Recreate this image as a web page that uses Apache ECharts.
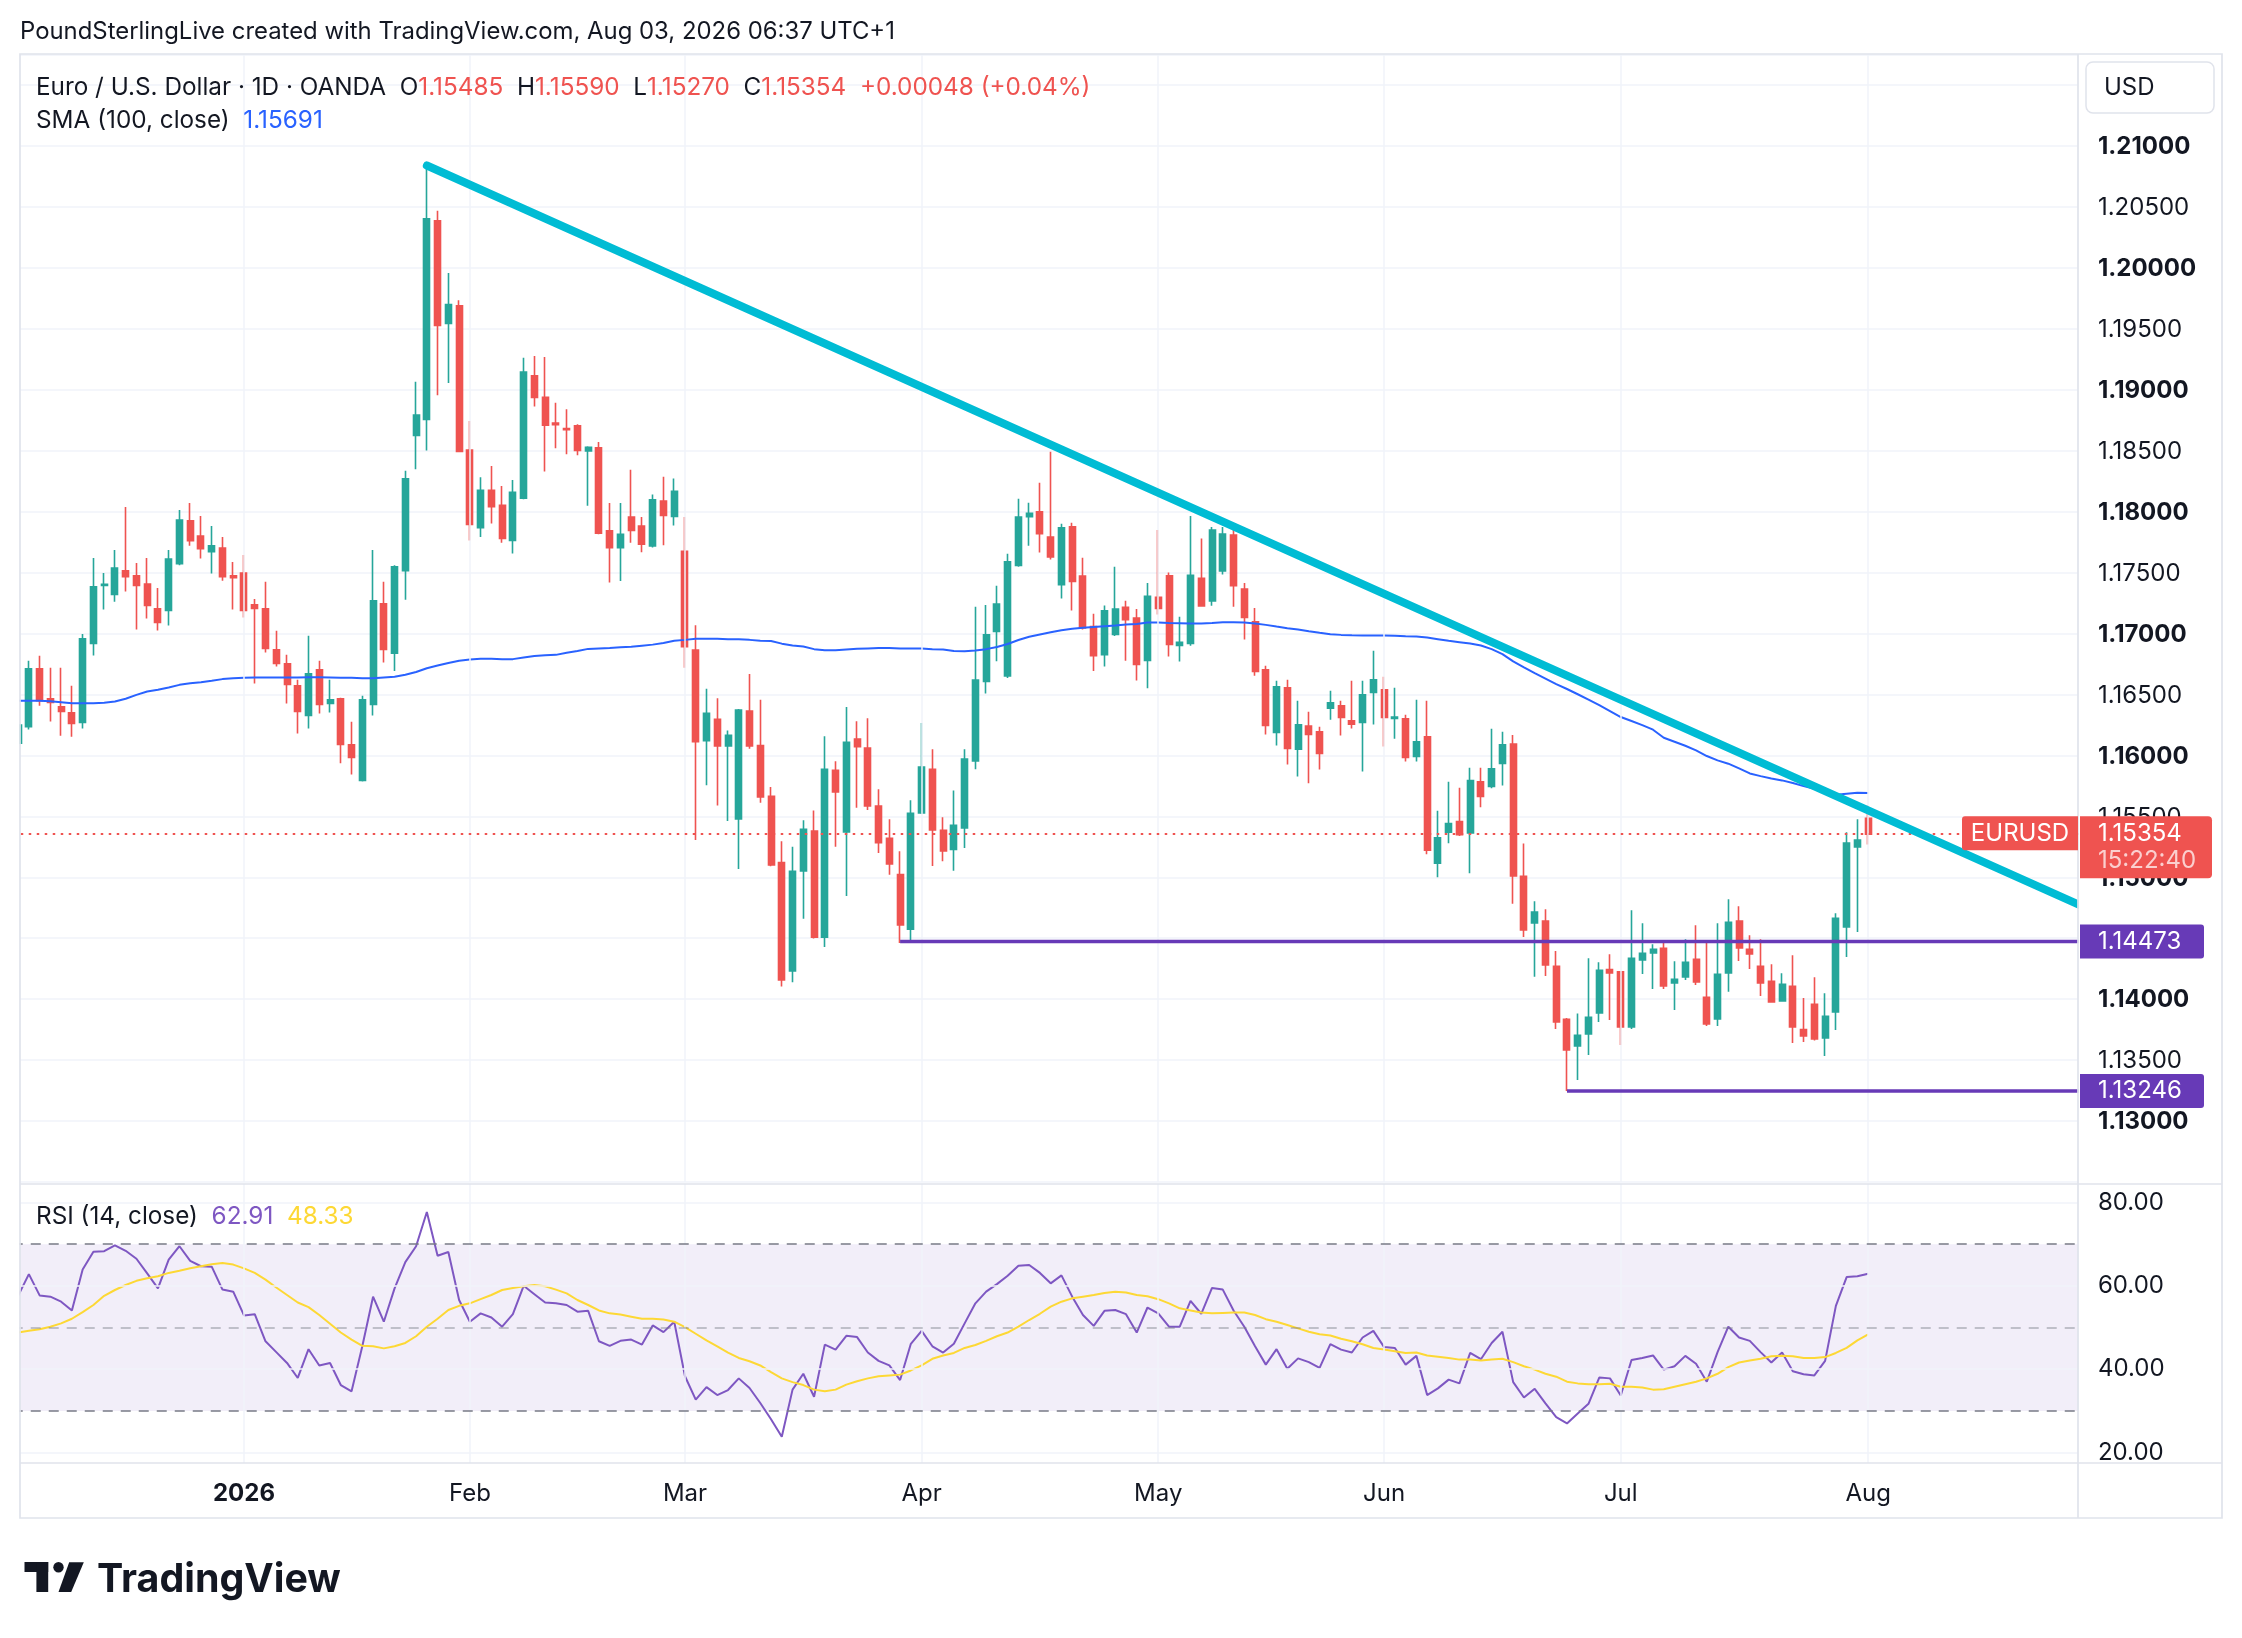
<!DOCTYPE html>
<html><head><meta charset="utf-8">
<script src="https://cdn.jsdelivr.net/npm/echarts@6/dist/echarts.min.js"></script>
<style>html,body{margin:0;padding:0;background:#fff}#c{width:2242px;height:1638px}</style>
</head><body><div id="c"></div>
<script>
// ---------------- DATA ----------------
const opens = [
1.1610,1.16235,1.16710,1.16465,1.16399,1.16350,1.16271,1.16918,1.17394,1.17320,
1.17514,1.17473,1.17407,1.17202,1.17189,1.17574,1.17924,1.17800,1.17672,1.17702,
1.17473,1.17497,1.17235,1.17202,1.16866,1.16751,1.16571,1.16328,1.16702,1.16426,
1.16465,1.16088,1.15795,1.16418,1.17243,1.16838,1.17516,1.18625,1.18757,1.20386,
1.19545,1.19690,1.18506,1.17868,1.18176,1.18053,1.17763,1.18110,1.19114,1.18938,
1.18726,1.18682,1.18704,1.18498,1.18524,1.17842,1.17705,1.17956,1.17881,1.17719,
1.18088,1.17961,1.17675,1.16865,1.16121,1.16297,1.16077,1.15478,1.16363,1.16081,
1.15665,1.15122,1.14232,1.15053,1.15379,1.14509,1.15877,1.15373,1.16134,1.16060,
1.15585,1.15319,1.15023,1.14575,1.15528,1.15886,1.15385,1.15229,1.15405,1.15955,
1.16606,1.17018,1.16651,1.17559,1.17959,1.17998,1.17792,1.17401,1.17876,1.17472,
1.17057,1.16827,1.16992,1.17216,1.17128,1.16779,1.17298,1.17473,1.16902,1.16918,
1.17454,1.17268,1.17514,1.17809,1.17366,1.17096,1.16702,1.16189,1.16555,1.16050,
1.16241,1.16194,1.16388,1.16407,1.16284,1.16271,1.16517,1.16538,1.16303,1.16301,
1.15992,1.16153,1.15115,1.15369,1.15457,1.15364,1.15784,1.15746,1.15935,1.16093,
1.15009,1.14626,1.14640,1.14270,1.13835,1.13616,1.13715,1.13887,1.14243,1.14224,
1.13772,1.14322,1.14380,1.14418,1.14133,1.14183,1.14328,1.14016,1.13838,1.14215,
1.14640,1.14410,1.14270,1.14147,1.13986,1.14106,1.13750,1.13958,1.13682,1.13895,
1.14593,1.15250,1.15485];
const highs = [
1.1632,1.16776,1.16817,1.16719,1.16719,1.16571,1.16997,1.17620,1.17497,1.17686,
1.18038,1.17579,1.17620,1.17374,1.17686,1.18014,1.18071,1.17964,1.17883,1.17792,
1.17587,1.17645,1.17284,1.17424,1.17022,1.16825,1.16620,1.16981,1.16776,1.16620,
1.16473,1.16276,1.16489,1.17686,1.17424,1.17560,1.18335,1.19065,1.20839,1.20469,
1.19959,1.19734,1.18744,1.18282,1.18374,1.18211,1.18260,1.19263,1.19277,1.19268,
1.18894,1.18841,1.18718,1.18537,1.18572,1.18071,1.18071,1.18344,1.17956,1.18141,
1.18286,1.18273,1.17956,1.17067,1.16548,1.16469,1.16205,1.16380,1.16667,1.16456,
1.15740,1.15295,1.15250,1.15468,1.15549,1.16158,1.15952,1.16397,1.16281,1.16305,
1.15722,1.15477,1.15214,1.15632,1.16266,1.16051,1.15492,1.15713,1.16051,1.17219,
1.17234,1.17392,1.17655,1.18106,1.18073,1.18237,1.18491,1.17900,1.17909,1.17622,
1.17162,1.17230,1.17547,1.17269,1.17202,1.17415,1.17850,1.17500,1.17137,1.17964,
1.17780,1.17874,1.17874,1.17874,1.17415,1.17210,1.16735,1.16612,1.16620,1.16448,
1.16358,1.16235,1.16530,1.16448,1.16612,1.16612,1.16858,1.16645,1.16555,1.16334,
1.16456,1.16448,1.15547,1.15784,1.15735,1.15899,1.15899,1.16219,1.16194,1.16167,
1.15277,1.14804,1.14738,1.14396,1.13846,1.13882,1.14336,1.14303,1.14369,1.14232,
1.14730,1.14623,1.14451,1.14484,1.14311,1.14492,1.14607,1.14460,1.14623,1.14820,
1.14763,1.14525,1.14492,1.14287,1.14213,1.14360,1.14010,1.14180,1.14049,1.14705,
1.15370,1.15477,1.15590];
const lows = [
1.1606,1.16213,1.16407,1.16279,1.16161,1.16153,1.16221,1.16820,1.17197,1.17260,
1.17344,1.17033,1.17123,1.17025,1.17066,1.17560,1.17721,1.17615,1.17492,1.17434,
1.17197,1.17131,1.16590,1.16844,1.16730,1.16426,1.16180,1.16221,1.16344,1.16353,
1.15935,1.15844,1.15787,1.16328,1.16762,1.16693,1.17278,1.18348,1.18502,1.18955,
1.19056,1.18490,1.17763,1.17793,1.17903,1.17745,1.17657,1.18101,1.18863,1.18330,
1.18520,1.18471,1.18462,1.18049,1.17815,1.17419,1.17432,1.17745,1.17666,1.17705,
1.17724,1.17886,1.16720,1.15307,1.15756,1.15589,1.15461,1.15069,1.16055,1.15611,
1.15090,1.14103,1.14139,1.14659,1.14497,1.14429,1.15250,1.14847,1.15570,1.15552,
1.15199,1.15020,1.14460,1.14471,1.15520,1.15092,1.15131,1.15053,1.15241,1.15886,
1.16508,1.16773,1.16636,1.17547,1.17720,1.17664,1.17607,1.17287,1.17189,1.17033,
1.16693,1.16729,1.16980,1.16777,1.16615,1.16552,1.17156,1.16812,1.16771,1.16900,
1.17219,1.17227,1.17484,1.17219,1.16951,1.16653,1.16172,1.16082,1.15926,1.15828,
1.15771,1.15885,1.16292,1.16164,1.16221,1.15869,1.16254,1.16074,1.16137,1.15951,
1.15951,1.15189,1.15000,1.15279,1.15339,1.15033,1.15574,1.15730,1.15754,1.14782,
1.14511,1.14183,1.14191,1.13756,1.13246,1.13337,1.13542,1.13813,1.13830,1.13624,
1.13756,1.14207,1.14084,1.14084,1.13912,1.14158,1.14117,1.13780,1.13780,1.14060,
1.14314,1.14248,1.14027,1.13970,1.13980,1.13641,1.13649,1.13660,1.13534,1.13747,
1.14347,1.14552,1.15270];
const closes = [
1.1625,1.16710,1.16448,1.16435,1.16361,1.16262,1.16956,1.17383,1.17404,1.17538,
1.17467,1.17394,1.17230,1.17090,1.17612,1.17932,1.17762,1.17697,1.17719,1.17467,
1.17459,1.17189,1.17205,1.16877,1.16754,1.16582,1.16361,1.16670,1.16418,1.16456,
1.16090,1.15984,1.16456,1.17268,1.16869,1.17547,1.18269,1.18792,1.20403,1.19527,
1.19699,1.18493,1.17895,1.18176,1.18040,1.17780,1.18159,1.19145,1.18938,1.18709,
1.18713,1.18673,1.18502,1.18528,1.17824,1.17705,1.17815,1.17846,1.17732,1.18097,
1.17969,1.18168,1.16891,1.16112,1.16345,1.16077,1.16165,1.16372,1.16077,1.15659,
1.15101,1.14157,1.15050,1.15394,1.14509,1.15886,1.15701,1.16107,1.16072,1.15585,
1.15283,1.15110,1.14608,1.15525,1.15904,1.15388,1.15217,1.15426,1.15970,1.16618,
1.16989,1.17242,1.17589,1.17956,1.17986,1.17819,1.17628,1.17867,1.17428,1.17045,
1.16818,1.17186,1.17201,1.17114,1.16746,1.17306,1.17205,1.16910,1.16929,1.17478,
1.17227,1.17850,1.17817,1.17393,1.17131,1.16689,1.16246,1.16563,1.16058,1.16252,
1.16172,1.16017,1.16432,1.16312,1.16257,1.16497,1.16620,1.16312,1.16314,1.15984,
1.16112,1.15222,1.15325,1.15440,1.15350,1.15793,1.15664,1.15891,1.16088,1.15012,
1.14569,1.14714,1.14281,1.13813,1.13583,1.13704,1.13851,1.14237,1.14215,1.13772,
1.14336,1.14377,1.14410,1.14109,1.14163,1.14303,1.14142,1.13797,1.14205,1.14631,
1.14421,1.14371,1.14133,1.13977,1.14122,1.13772,1.13698,1.13674,1.13860,1.14664,
1.15280,1.15305,1.15354];
const sma100 = [
1.16448,1.16448,1.16448,1.16445,1.16437,1.16429,1.16429,1.16429,1.16432,1.16443,
1.16465,1.16497,1.16525,1.16538,1.16557,1.16579,1.16593,1.16601,1.16612,1.16626,
1.16634,1.16637,1.16640,1.16640,1.16640,1.16640,1.16640,1.16642,1.16642,1.16640,
1.16637,1.16637,1.16634,1.16634,1.16640,1.16645,1.16662,1.16684,1.16715,1.16737,
1.16759,1.16777,1.16786,1.16794,1.16794,1.16790,1.16790,1.16803,1.16816,1.16821,
1.16825,1.16843,1.16856,1.16874,1.16878,1.16882,1.16887,1.16891,1.16900,1.16909,
1.16922,1.16940,1.16948,1.16957,1.16957,1.16957,1.16953,1.16953,1.16948,1.16940,
1.16938,1.16917,1.16902,1.16893,1.16872,1.16863,1.16863,1.16869,1.16875,1.16878,
1.16881,1.16881,1.16878,1.16878,1.16878,1.16872,1.16869,1.16857,1.16854,1.16860,
1.16872,1.16890,1.16914,1.16947,1.16974,1.16992,1.17010,1.17027,1.17039,1.17048,
1.17054,1.17060,1.17066,1.17075,1.17078,1.17090,1.17090,1.17087,1.17085,1.17082,
1.17082,1.17087,1.17093,1.17093,1.17090,1.17082,1.17071,1.17057,1.17044,1.17033,
1.17019,1.17006,1.16995,1.16989,1.16986,1.16984,1.16984,1.16984,1.16981,1.16978,
1.16976,1.16967,1.16954,1.16940,1.16929,1.16918,1.16902,1.16872,1.16831,1.16771,
1.16722,1.16675,1.16630,1.16585,1.16545,1.16502,1.16458,1.16412,1.16364,1.16315,
1.16282,1.16249,1.16211,1.16145,1.16112,1.16079,1.16041,1.15995,1.15959,1.15932,
1.15893,1.15852,1.15830,1.15811,1.15795,1.15773,1.15748,1.15726,1.15699,1.15677,
1.15685,1.15693,1.15691];
const rsi14 = [
57.6,62.8,57.7,57.4,56.2,54.1,63.9,68.2,68.3,69.7,
68.4,66.5,63.0,59.4,66.3,69.5,66.0,64.7,64.6,59.1,
58.6,52.9,53.2,46.7,44.1,41.5,37.9,44.8,40.9,41.5,
36.2,34.7,45.5,57.4,51.4,59.4,65.7,69.5,77.7,67.2,
68.1,56.6,51.4,53.4,52.4,50.2,53.2,60.0,58.0,56.0,
55.8,55.4,53.8,54.0,46.7,45.6,46.8,47.1,45.9,50.5,
48.9,51.4,38.3,32.7,35.7,33.8,35.0,37.8,35.5,31.9,
28.0,23.8,35.1,38.9,33.4,45.9,44.7,48.0,47.7,44.0,
42.0,40.9,37.4,46.1,49.2,45.5,44.0,46.1,51.0,55.8,
58.6,60.4,62.4,64.8,65.0,63.1,60.6,62.5,57.4,53.0,
50.4,54.0,54.2,53.2,48.8,54.8,53.4,50.2,50.2,56.4,
53.3,59.5,59.1,54.1,50.2,45.5,41.1,44.8,40.1,42.6,
41.7,40.3,46.0,44.7,44.0,47.6,49.2,45.3,45.1,41.1,
43.2,33.8,35.4,37.5,36.6,43.9,42.4,46.3,49.0,36.9,
33.2,35.3,31.8,28.5,27.0,29.4,31.7,38.0,37.8,33.7,
42.2,42.7,43.3,39.9,40.7,43.2,41.3,37.0,44.1,50.2,
47.6,46.8,44.1,41.6,44.0,39.5,38.8,38.5,42.0,55.2,
62.1,62.3,62.91];
const rsiMa = [
48.8,49.2,49.6,50.2,51.0,52.1,53.7,55.4,57.6,59.0,
60.2,61.2,61.8,62.3,63.1,63.6,64.2,64.7,65.2,65.5,
65.1,64.2,63.1,61.5,59.6,57.8,56.0,54.9,53.0,50.9,
48.8,47.1,45.6,45.5,45.0,45.5,46.3,47.9,50.2,52.1,
54.2,55.2,55.8,56.8,57.8,59.0,59.5,59.9,60.2,59.9,
59.1,58.2,56.6,55.4,54.1,53.4,53.1,52.6,52.1,52.1,
51.9,51.4,50.1,48.5,46.9,45.5,44.0,42.7,41.9,40.9,
39.3,37.8,36.9,36.2,35.1,34.7,35.1,36.3,37.1,37.8,
38.3,38.5,38.7,39.7,40.9,42.5,43.3,43.9,45.1,45.8,
46.8,47.9,48.8,50.2,51.8,53.3,55.0,56.2,57.0,57.4,
57.8,58.3,58.6,58.4,57.8,57.5,56.8,55.8,54.6,54.1,
53.6,53.4,53.5,53.6,53.6,53.0,52.0,51.4,50.6,49.8,
49.0,48.4,48.1,47.3,46.7,46.0,45.1,44.7,44.3,43.9,
44.0,43.3,43.0,42.7,42.3,42.3,42.1,42.3,42.5,41.7,
40.7,39.9,38.9,38.2,37.0,36.6,36.4,36.4,36.5,35.8,
35.8,35.6,35.1,35.2,35.8,36.4,37.0,37.8,38.9,40.5,
41.6,42.1,42.5,43.1,43.2,43.1,42.7,42.7,42.9,43.9,
45.1,46.9,48.33];
const monthLabels = ['2026','Feb','Mar','Apr','May','Jun','Jul','Aug'];
const holidays = ['2025-12-25','2026-01-01'];
const firstDay = '2025-12-02';
const TOTAL_SLOTS = 193;              // traded days + empty space on the right
const trendLine = [[38, 1.2084], [192, 1.1476]];
const levels = [{from: 82, value: 1.14473}, {from: 144, value: 1.13246}];
const lastPrice = 1.15354;
const changeText = '+0.00048 (+0.04%)';
const countdown = '15:22:40';
const smaLast = '1.15691';
const rsiLastTxt = ['62.91', '48.33'];
const priceTicks = {min: 1.125, max: 1.2175, step: 0.005, labelFrom: 1.13, labelTo: 1.21};
const rsiTicks = [20, 40, 60, 80];
const rsiBands = [70, 50, 30];

// ---------------- BUILD ----------------
const dates = [];
(function () {
  let t = Date.parse(firstDay + 'T00:00:00Z');
  while (dates.length < TOTAL_SLOTS) {
    const d = new Date(t), wd = d.getUTCDay(), s = d.toISOString().slice(0, 10);
    if (wd !== 0 && wd !== 6 && holidays.indexOf(s) < 0) dates.push(s);
    t += 86400000;
  }
})();
const monthStart = {};
(function () {
  let li = 0;
  for (let i = 1; i < dates.length && li < monthLabels.length; i++) {
    if (dates[i].slice(5, 7) !== dates[i - 1].slice(5, 7)) monthStart[i] = monthLabels[li++];
  }
})();
const monthIdx = Object.keys(monthStart).map(Number);
const candles = opens.map((o, i) => [o, closes[i], lows[i], highs[i]]);

const C = {text:'#131722', grid:'#F0F3FA', frame:'#E0E3EB', up:'#26A69A', down:'#EF5350',
  sma:'#2962FF', trend:'#00BCD4', level:'#673AB7', rsi:'#7E57C2', rsiMa:'#FDD835'};
const FONT = 'Inter, "Noto Sans", Roboto, sans-serif';
const AX = 24;   // axis label font size
const LG = 24.3; // legend font size

const G = {left: 12.74, width: 2075.9};
const option = {
  animation: false,
  backgroundColor: '#ffffff',
  textStyle: {fontFamily: FONT},
  grid: [
    {left: G.left, width: G.width, top: 54.6, height: 1127.4, containLabel: false, outerBoundsMode: 'none'},
    {left: G.left, width: G.width, top: 1183.7, height: 279.3, containLabel: false, outerBoundsMode: 'none'}
  ],
  xAxis: [
    {type: 'category', gridIndex: 0, data: dates, boundaryGap: true,
     axisLine: {show: false}, axisTick: {show: false}, axisLabel: {show: false}, splitLine: {show: false}},
    {type: 'category', gridIndex: 1, data: dates, boundaryGap: true,
     axisLine: {show: false}, axisTick: {show: false}, splitLine: {show: false},
     axisLabel: {
       interval: (i) => monthStart[i] !== undefined,
       formatter: (v, i) => { const t = monthStart[i]; if (!t) return ''; return /^\d{4}$/.test(t) ? '{b|' + t + '}' : '{n|' + t + '}'; },
       margin: 30.5, verticalAlign: 'middle',
       rich: {b: {fontSize: 24, fontWeight: 'bold', color: C.text, fontFamily: FONT},
              n: {fontSize: 24, color: C.text, fontFamily: FONT}}
     }}
  ],
  yAxis: [
    {type: 'value', gridIndex: 0, position: 'right', min: priceTicks.min, max: priceTicks.max, interval: priceTicks.step,
     axisLine: {show: false}, axisTick: {show: false},
     splitLine: {show: true, lineStyle: {color: C.grid, width: 1.5}},
     axisLabel: {margin: 9.3, showMinLabel: false, showMaxLabel: false,
       formatter: (v) => {
         if (v < priceTicks.labelFrom - 1e-6 || v > priceTicks.labelTo + 1e-6) return '';
         const k = Math.round(v * 1000);
         return (k % 10 === 0 ? '{b|' : '{n|') + v.toFixed(5) + '}';
       },
       rich: {b: {fontSize: AX, fontWeight: 'bold', color: C.text, fontFamily: FONT, padding: [2, 0, 0, 0]},
              n: {fontSize: AX, color: C.text, fontFamily: FONT, padding: [2, 0, 0, 0]}}}},
    {type: 'value', gridIndex: 1, position: 'right', min: 17.5, max: 84.5, interval: 2.5,
     axisLine: {show: false}, axisTick: {show: false}, splitLine: {show: false},
     axisLabel: {margin: 9.3, showMinLabel: false, showMaxLabel: false, fontSize: AX, color: C.text, fontFamily: FONT,
       formatter: (v) => { const r = Math.round(v * 10) / 10; return rsiTicks.indexOf(r) >= 0 ? r.toFixed(2) : ''; }}}
  ],
  series: [
    {name: 'gridV', type: 'line', xAxisIndex: 0, yAxisIndex: 0, data: [], z: 1, silent: true, symbol: 'none',
     markLine: {silent: true, symbol: ['none', 'none'], label: {show: false}, animation: false,
       lineStyle: {color: C.grid, width: 1.5, type: 'solid'}, data: monthIdx.map(i => ({xAxis: dates[i]}))}},
    {name: 'EURUSD', type: 'candlestick', xAxisIndex: 0, yAxisIndex: 0, data: candles, barWidth: 6.5, z: 3,
     itemStyle: {color: C.up, color0: C.down, borderColor: C.up, borderColor0: C.down, borderWidth: 1.6},
     markLine: {silent: true, symbol: ['none', 'none'], label: {show: false}, animation: false, precision: 5,
       lineStyle: {color: C.down, width: 2, type: [2.5, 5.5]}, data: [{yAxis: lastPrice}]}},
    {name: 'SMA', type: 'line', xAxisIndex: 0, yAxisIndex: 0, data: sma100, symbol: 'none', z: 4, silent: true,
     lineStyle: {color: C.sma, width: 2}},
    {name: 'trend', type: 'line', xAxisIndex: 0, yAxisIndex: 0, data: trendLine, symbol: 'none', z: 6, silent: true,
     lineStyle: {color: C.trend, width: 8, cap: 'round'}},
    ...levels.map(l => ({type: 'line', xAxisIndex: 0, yAxisIndex: 0, symbol: 'none', z: 5, silent: true,
      data: [[l.from, l.value], [TOTAL_SLOTS - 1, l.value]], lineStyle: {color: C.level, width: 3.5}})),
    {name: 'rsiBg', type: 'line', xAxisIndex: 1, yAxisIndex: 1, data: [], z: 1, silent: true, symbol: 'none',
     markArea: {silent: true, itemStyle: {color: 'rgba(126,87,194,0.1)'}, data: [[{yAxis: rsiBands[2]}, {yAxis: rsiBands[0]}]]},
     markLine: {silent: true, symbol: ['none', 'none'], label: {show: false}, animation: false,
       lineStyle: {color: C.grid, width: 1.5, type: 'solid'},
       data: monthIdx.map(i => ({xAxis: dates[i]})).concat(rsiTicks.map(v => ({yAxis: v})))}},
    {name: 'rsiBands', type: 'line', xAxisIndex: 1, yAxisIndex: 1, data: [], z: 2, silent: true, symbol: 'none',
     markLine: {silent: true, symbol: ['none', 'none'], label: {show: false}, animation: false,
       lineStyle: {width: 1.7, type: [10, 8], color: '#787B86'},
       data: [{yAxis: rsiBands[0]}, {yAxis: rsiBands[1], lineStyle: {color: 'rgba(120,123,134,0.55)'}}, {yAxis: rsiBands[2]}]}},
    {name: 'RSI', type: 'line', xAxisIndex: 1, yAxisIndex: 1, data: rsi14, symbol: 'none', z: 3, silent: true,
     lineStyle: {color: C.rsi, width: 2}},
    {name: 'RSI MA', type: 'line', xAxisIndex: 1, yAxisIndex: 1, data: rsiMa, symbol: 'none', z: 4, silent: true,
     lineStyle: {color: C.rsiMa, width: 2}}
  ]
};

const chart = echarts.init(document.getElementById('c'), null, {renderer: 'canvas'});
chart.setOption(option);

const py = v => chart.convertToPixel({yAxisIndex: 0}, v);
function T(x, y, text, st) {
  return {type: 'text', x: x, y: y, z: 80, silent: true,
    style: Object.assign({text: text, fontFamily: FONT, fontSize: LG, fill: C.text, verticalAlign: 'middle', align: 'left'}, st || {})};
}
const rich = (extra) => Object.assign({
  n: {fill: C.text, fontSize: LG, fontFamily: FONT},
  r: {fill: C.down, fontSize: LG, fontFamily: FONT}}, extra || {});
const g = [];
// covers outside the plot area (clip)
g.push({type: 'rect', z: 40, silent: true, shape: {x: 0, y: 40, width: 19.6, height: 1490}, style: {fill: '#fff'}});
g.push({type: 'rect', z: 40, silent: true, shape: {x: 2078.5, y: 40, width: 17, height: 1490}, style: {fill: '#fff'}});
// frame
g.push({type: 'rect', z: 45, silent: true, shape: {x: 20, y: 54, width: 2202, height: 1464}, style: {fill: 'none', stroke: C.frame, lineWidth: 1.7}});
g.push({type: 'line', z: 45, silent: true, shape: {x1: 20, y1: 1184, x2: 2222, y2: 1184}, style: {stroke: C.frame, lineWidth: 1.7}});
g.push({type: 'line', z: 45, silent: true, shape: {x1: 20, y1: 1463, x2: 2222, y2: 1463}, style: {stroke: C.frame, lineWidth: 1.7}});
g.push({type: 'line', z: 45, silent: true, shape: {x1: 2078, y1: 54, x2: 2078, y2: 1518}, style: {stroke: C.frame, lineWidth: 1.7}});
// header + legends
g.push(T(20, 31.5, 'PoundSterlingLive created with TradingView.com, Aug 03, 2026 06:37 UTC+1', {fontSize: 23.9}));
const fmt = v => v.toFixed(5);
const last = candles.length - 1;
g.push(T(36, 87.5, '{n|Euro / U.S. Dollar · 1D · OANDA}  {n|O}{r|' + fmt(opens[last]) + '}  {n|H}{r|' + fmt(highs[last]) +
  '}  {n|L}{r|' + fmt(lows[last]) + '}  {n|C}{r|' + fmt(closes[last]) + '}  {r|' + changeText + '}',
  {rich: rich()}));
g.push(T(36, 120.5, '{n|SMA (100, close)}  {b|' + smaLast + '}', {rich: rich({b: {fill: C.sma, fontSize: LG, fontFamily: FONT}})}));
g.push(T(36, 1216.5, '{n|RSI (14, close)}  {p|' + rsiLastTxt[0] + '}  {y|' + rsiLastTxt[1] + '}',
  {rich: rich({p: {fill: C.rsi, fontSize: LG, fontFamily: FONT}, y: {fill: C.rsiMa, fontSize: LG, fontFamily: FONT}})}));
// USD box
g.push({type: 'rect', z: 60, silent: true, shape: {x: 2086, y: 62, width: 128, height: 51, r: 7}, style: {fill: '#fff', stroke: C.frame, lineWidth: 1.5}});
g.push(T(2104, 88, 'USD', {fontSize: AX}));
// last price labels
const yl = py(lastPrice);
g.push({type: 'rect', z: 60, silent: true, shape: {x: 1962, y: yl - 18, width: 116, height: 34, r: [3, 0, 0, 3]}, style: {fill: C.down}});
g.push(T(2020, yl - 0.5, 'EURUSD', {fill: '#fff', align: 'center', fontSize: AX}));
g.push({type: 'rect', z: 60, silent: true, shape: {x: 2080, y: yl - 18, width: 132, height: 62, r: [0, 4, 4, 0]}, style: {fill: C.down}});
g.push(T(2098, yl - 0.5, lastPrice.toFixed(5), {fill: '#fff', fontSize: AX}));
g.push(T(2098, yl + 27, countdown, {fill: 'rgba(255,255,255,0.72)', fontSize: AX}));
// level labels
levels.forEach(l => {
  const y = py(l.value);
  g.push({type: 'rect', z: 60, silent: true, shape: {x: 2080, y: y - 17, width: 124, height: 34, r: [0, 3, 3, 0]}, style: {fill: C.level}});
  g.push(T(2098, y, l.value.toFixed(5), {fill: '#fff', fontSize: AX}));
});
// TradingView logo
const LK = '#131722';
g.push({type: 'rect', z: 80, silent: true, shape: {x: 24.5, y: 1562, width: 23.7, height: 10}, style: {fill: LK}});
g.push({type: 'rect', z: 80, silent: true, shape: {x: 36.4, y: 1562, width: 11.8, height: 30}, style: {fill: LK}});
g.push({type: 'circle', z: 80, silent: true, shape: {cx: 58.5, cy: 1567.3, r: 5.2}, style: {fill: LK}});
g.push({type: 'polygon', z: 80, silent: true, shape: {points: [[58.5, 1592], [71.2, 1592], [83.8, 1562.3], [69.2, 1562.3]]}, style: {fill: LK}});
g.push(T(97, 1580, 'TradingView', {fontSize: 39.4, fontWeight: 'bold', fill: LK}));

chart.setOption({graphic: g});
</script>
</body></html>
